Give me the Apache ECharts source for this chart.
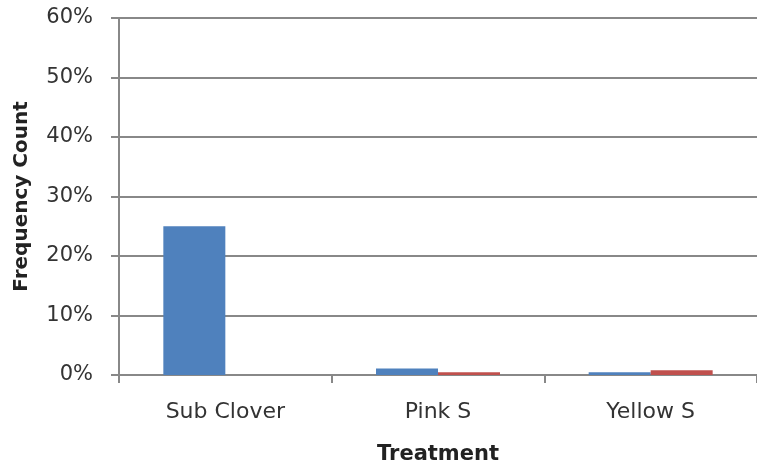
<!DOCTYPE html>
<html><head><meta charset="utf-8">
<script src="https://cdn.jsdelivr.net/npm/echarts@6/dist/echarts.min.js"></script>
<style>html,body{margin:0;padding:0;background:#fff}#c{width:757px;height:470px}</style>
</head><body><div id="c"></div>
<script>
const categories = ['Sub Clover', 'Pink S', 'Yellow S'];
const seriesA = [25, 1.1, 0.45];
const seriesB = [0, 0.45, 0.8];
const yTicks = [0, 10, 20, 30, 40, 50, 60];

const font = '"DejaVu Sans", sans-serif';
const chart = echarts.init(document.getElementById('c'));
chart.setOption({
  animation: false,
  grid: {left: 119, top: 18, right: 0, bottom: 93, containLabel: false},
  xAxis: {
    type: 'category', data: categories,
    name: 'Treatment', nameLocation: 'middle', nameGap: 69,
    nameTextStyle: {fontFamily: font, fontWeight: 'bold', fontSize: 21, color: '#222'},
    axisLine: {lineStyle: {color: '#888', width: 2}},
    axisTick: {show: true, length: 8, alignWithLabel: false, lineStyle: {color: '#888', width: 2}},
    axisLabel: {fontFamily: font, fontSize: 22, color: '#333', margin: 26}
  },
  yAxis: {
    type: 'value', min: yTicks[0], max: yTicks[yTicks.length - 1], interval: 10,
    name: 'Frequency Count', nameLocation: 'middle', nameGap: 87, nameRotate: 90,
    nameTextStyle: {fontFamily: font, fontWeight: 'bold', fontSize: 20, color: '#222'},
    axisLine: {show: true, lineStyle: {color: '#888', width: 2}},
    axisTick: {show: true, length: 8, lineStyle: {color: '#888', width: 2}},
    splitLine: {lineStyle: {color: '#888', width: 2}},
    axisLabel: {fontFamily: font, fontSize: 21, color: '#333', margin: 26, formatter: '{value}%'}
  },
  series: [
    {type: 'bar', data: seriesA, itemStyle: {color: '#4F81BD'}, barWidth: 62, barGap: '0%'},
    {type: 'bar', data: seriesB, itemStyle: {color: '#C0504D'}, barWidth: 62, barGap: '0%'}
  ]
});
</script></body></html>
